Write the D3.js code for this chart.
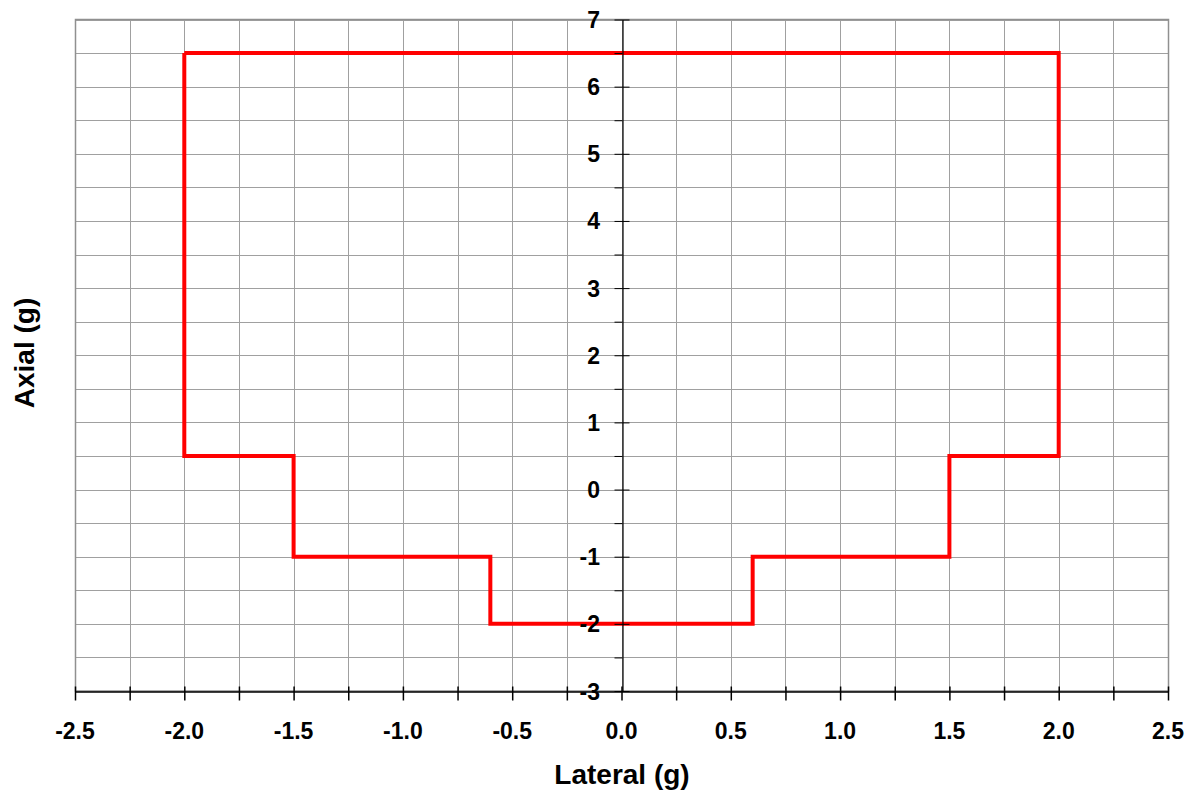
<!DOCTYPE html>
<html>
<head>
<meta charset="utf-8">
<script src="https://cdn.jsdelivr.net/npm/d3@7"></script>
<style>
  body { margin: 0; background: #fff; }
  text { font-family: Arial, "Liberation Sans", sans-serif; font-weight: bold; }
</style>
</head>
<body>
<svg id="chart" width="1193" height="791"></svg>
<script>
// envelope outline (lateral g, axial g)
var lateral = [-2, 2, 2, 1.5, 1.5, 0.6, 0.6, -0.6, -0.6, -1.5, -1.5, -2, -2]
var axial = [6.5, 6.5, 0.5, 0.5, -1, -1, -2, -2, -1, -1, 0.5, 0.5, 6.5]

var xTicks = [-2.5, -2.0, -1.5, -1.0, -0.5, 0.0, 0.5, 1.0, 1.5, 2.0, 2.5]
var yTicks = [-3, -2, -1, 0, 1, 2, 3, 4, 5, 6, 7]

var plotLeft = 75, plotRight = 1168, plotTop = 19.5, plotBottom = 691

var svg = d3.select('#chart')
var x = d3.scaleLinear().domain([-2.5, 2.5]).range([plotLeft, plotRight])
var y = d3.scaleLinear().domain([-3, 7]).range([plotBottom, plotTop])

/* grid: vertical every 0.25, horizontal every 0.5 */
var xGrid = d3.range(-2.5, 2.5001, 0.25)
var yGrid = d3.range(-3, 7.001, 0.5)

var grid = svg.append('g').attr('stroke', '#a0a0a0').attr('stroke-width', 1)
grid.selectAll('line.v').data(xGrid).enter().append('line')
	.attr('x1', function(d) { return Math.round(x(d)) + 0.5 })
	.attr('x2', function(d) { return Math.round(x(d)) + 0.5 })
	.attr('y1', plotTop).attr('y2', plotBottom)
grid.selectAll('line.h').data(yGrid).enter().append('line')
	.attr('y1', function(d) { return Math.round(y(d)) + 0.5 })
	.attr('y2', function(d) { return Math.round(y(d)) + 0.5 })
	.attr('x1', plotLeft).attr('x2', plotRight)

/* plot border */
svg.append('rect')
	.attr('x', plotLeft + 0.5).attr('y', plotTop)
	.attr('width', plotRight - plotLeft).attr('height', plotBottom - plotTop)
	.attr('fill', 'none').attr('stroke', '#909090').attr('stroke-width', 1.5)

/* the envelope */
var pts = lateral.map(function(d, i) { return [d, axial[i]] })
svg.append('path')
	.datum(pts)
	.attr('d', d3.line().x(function(d) { return x(d[0]) }).y(function(d) { return y(d[1]) }))
	.attr('fill', 'none').attr('stroke', '#ff0000').attr('stroke-width', 4)
	.attr('stroke-linejoin', 'miter')

/* x axis along y = -3 */
var xAxisG = svg.append('g').attr('transform', 'translate(0,' + (Math.round(y(-3)) + 0.5) + ')')
xAxisG.call(d3.axisBottom(x).tickValues(xGrid).tickSize(0).tickFormat(''))
xAxisG.select('.domain').attr('stroke', '#000').attr('stroke-width', 1.5)
xAxisG.selectAll('.tick line').attr('y1', -5).attr('y2', 9).attr('stroke', '#000').attr('stroke-width', 1.5)
svg.append('g').selectAll('text').data(xTicks).enter().append('text')
	.attr('x', function(d) { return x(d) })
	.attr('y', 739)
	.attr('text-anchor', 'middle')
	.attr('font-size', 23)
	.text(function(d) { return d.toFixed(1) })

/* y axis along x = 0 */
var axisX = Math.round(x(0)) + 0.5
var yAxisG = svg.append('g').attr('transform', 'translate(' + axisX + ',0)')
yAxisG.call(d3.axisLeft(y).tickValues(yGrid).tickSize(0).tickFormat(''))
yAxisG.select('.domain').attr('stroke', '#000').attr('stroke-width', 1.2)
yAxisG.selectAll('.tick line')
	.attr('x1', -8)
	.attr('x2', function(d) { return d % 1 === 0 ? 7 : 0 })
	.attr('stroke', '#000').attr('stroke-width', 1)
svg.append('g').selectAll('text').data(yTicks).enter().append('text')
	.attr('x', 600)
	.attr('y', function(d) { return y(d) + 8.5 })
	.attr('text-anchor', 'end')
	.attr('font-size', 23)
	.text(function(d) { return String(d) })

/* titles */
svg.append('text')
	.attr('x', 622).attr('y', 784)
	.attr('text-anchor', 'middle').attr('font-size', 28)
	.text('Lateral (g)')
svg.append('text')
	.attr('transform', 'translate(34,353) rotate(-90)')
	.attr('text-anchor', 'middle').attr('font-size', 28)
	.text('Axial (g)')
</script>
</body>
</html>
